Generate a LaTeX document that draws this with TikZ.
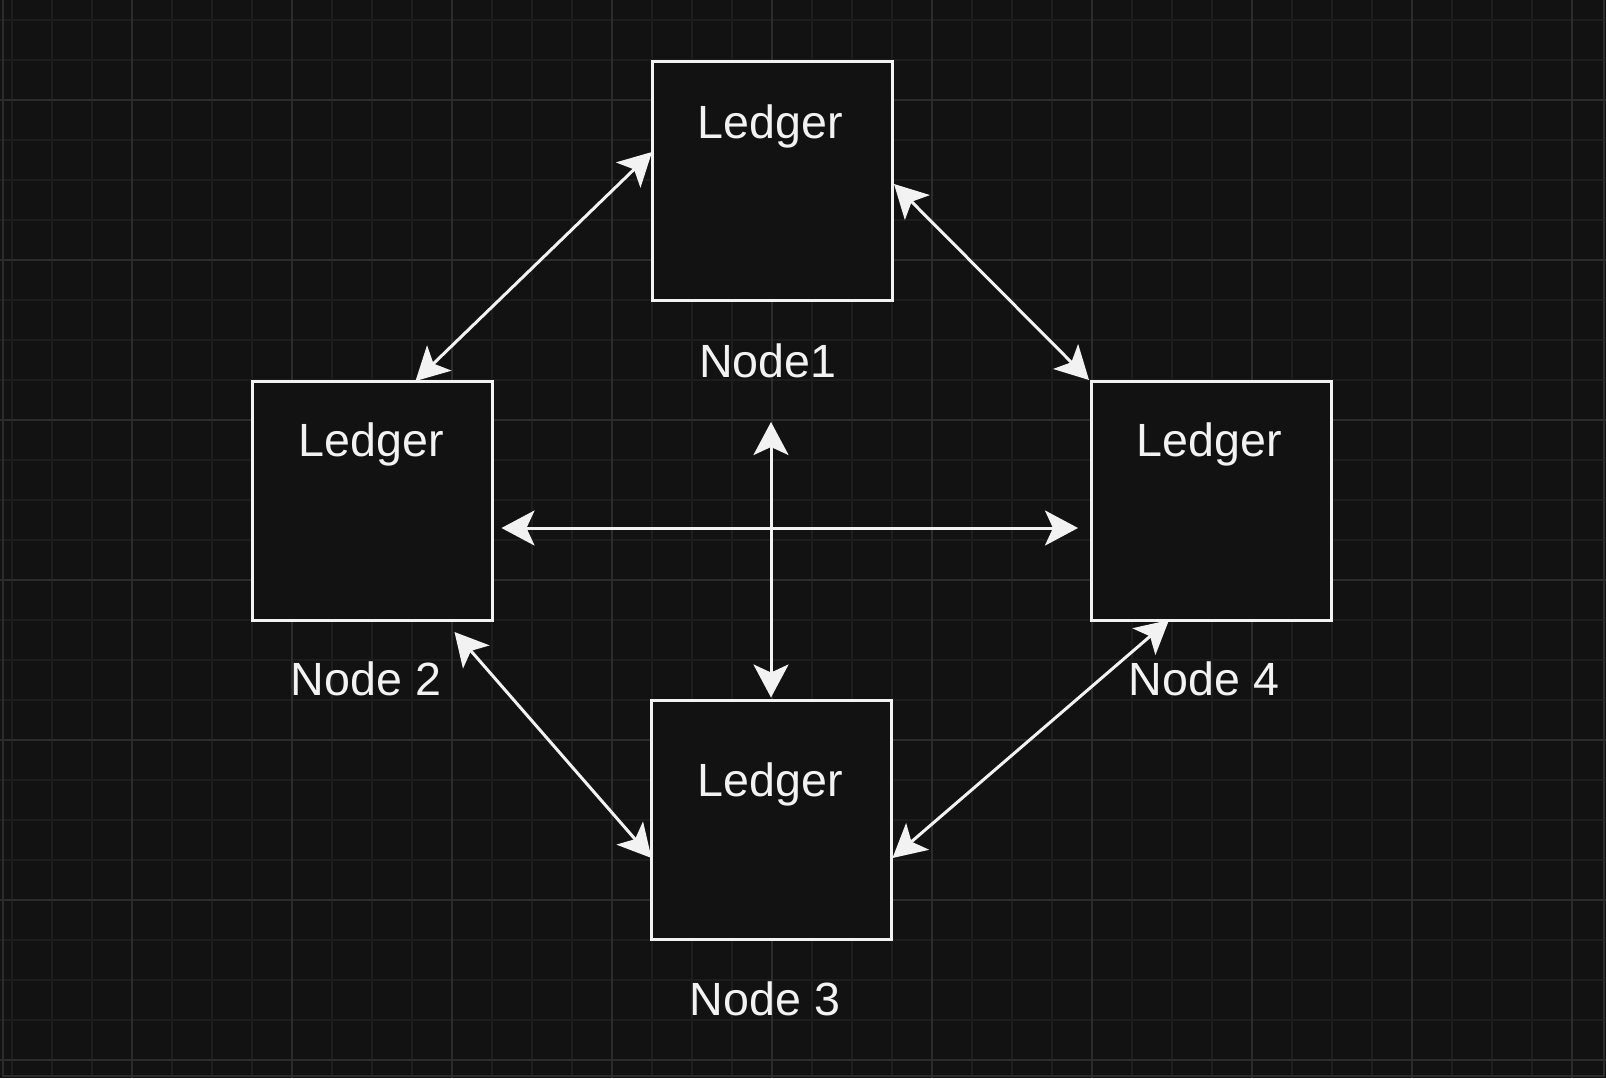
\documentclass[tikz,border=0pt]{standalone}
\usepackage{fontspec}
\setmainfont{Liberation Sans}
\usetikzlibrary{arrows.meta}
\definecolor{bgc}{HTML}{121212}
\definecolor{gridminor}{HTML}{1D1D1D}
\definecolor{gridmajor}{HTML}{2C2C2C}
\definecolor{fg}{HTML}{F2F2F2}
\tikzset{
  ledgerbox/.style={draw=fg, line width=1.5pt, fill=bgc, inner sep=0pt, outer sep=0pt, minimum width=120pt, minimum height=119.5pt},
  txt/.style={text=fg, font=\fontsize{23.3}{28}\selectfont, inner sep=0pt, anchor=base},
  conn/.style={draw=fg, line width=1.5pt, {Stealth[length=16.5pt,width=17.5pt,inset=4pt]}-{Stealth[length=16.5pt,width=17.5pt,inset=4pt]}}
}
\begin{document}
\begin{tikzpicture}[x=0.5pt,y=-0.5pt]
\useasboundingbox (0,0) rectangle (1606,1078);
\fill[bgc] (0,0) rectangle (1606,1078);
% minor grid
\foreach \i in {0,...,39} {\draw[gridminor, line width=0.9pt] (12+40*\i,0) -- (12+40*\i,1078);}
\foreach \j in {0,...,26} {\draw[gridminor, line width=0.9pt] (0,20+40*\j) -- (1606,20+40*\j);}
% major grid
\foreach \i in {0,...,9} {\draw[gridmajor, line width=0.9pt] (132+160*\i,0) -- (132+160*\i,1078);}
\foreach \j in {0,...,6} {\draw[gridmajor, line width=0.9pt] (0,100+160*\j) -- (1606,100+160*\j);}
% frame edges
\draw[gridmajor, line width=0.9pt] (3,0) -- (3,1076) -- (1604,1076) -- (1604,0);
% boxes
\node[ledgerbox] (n1) at (772,181) {};
\node[ledgerbox] (n2) at (372.5,500.5) {};
\node[ledgerbox] (n4) at (1211,500.5) {};
\node[ledgerbox] (n3) at (771.5,820) {};
% ledger texts
\node[txt] (l1) at (770,138) {Ledger};
\node[txt] (l2) at (371,456) {Ledger};
\node[txt] (l4) at (1209,456) {Ledger};
\node[txt] (l3) at (770,796) {Ledger};
% labels
\node[txt] (t1) at (768,377) {Node1};
\node[txt] (t2) at (366,695) {Node 2};
\node[txt] (t4) at (1204,695) {Node 4};
\node[txt] (t3) at (765,1015) {Node 3};
% connectors
\coordinate (vtop) at (771,422);
\draw[conn] ([shift={(0,-29)}]n1.west) -- ([shift={(43,0)}]n2.north);
\draw[conn] ([shift={(2,3)}]n1.east) -- ([shift={(-2,-1)}]n4.north west);
\draw[conn] ([shift={(-38,12)}]n2.south east) -- ([shift={(0,38)}]n3.west);
\draw[conn] ([shift={(-42,0)}]n4.south) -- ([shift={(1,38)}]n3.east);
\draw[conn] ([shift={(9,27.5)}]n2.east) -- ([shift={(-13,27.5)}]n4.west);
\draw[conn] (vtop) -- ([shift={(-0.5,-3)}]n3.north);
\end{tikzpicture}
\end{document}
